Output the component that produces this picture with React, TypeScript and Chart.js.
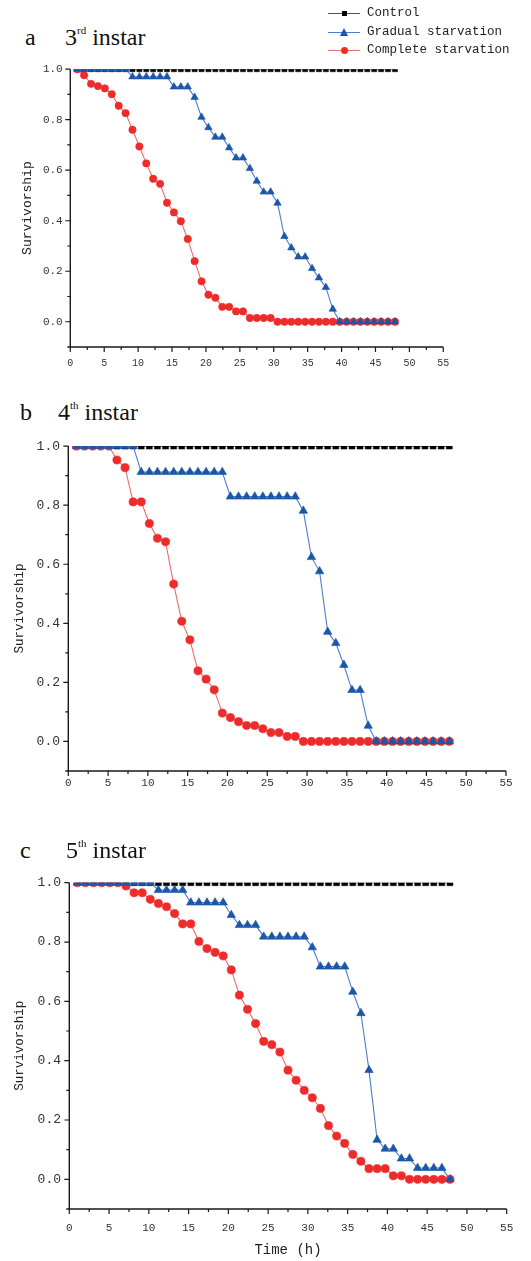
import React, { useEffect, useRef } from "react";
import { Chart, registerables } from "chart.js";

Chart.register(...registerables);

// ---------- data ----------
const timeHours = [
  1, 2, 3, 4, 5, 6, 7, 8, 9, 10, 11, 12, 13, 14, 15, 16, 17, 18, 19, 20, 21, 22, 23, 24,
  25, 26, 27, 28, 29, 30, 31, 32, 33, 34, 35, 36, 37, 38, 39, 40, 41, 42, 43, 44, 45, 46, 47,
];

const controlSurvival = [
  1, 1, 1, 1, 1, 1, 1, 1, 1, 1, 1, 1, 1, 1, 1, 1, 1, 1, 1, 1, 1, 1, 1, 1,
  1, 1, 1, 1, 1, 1, 1, 1, 1, 1, 1, 1, 1, 1, 1, 1, 1, 1, 1, 1, 1, 1, 1,
];

// 3rd instar
const gradual3rd = [
  1, 1, 1, 1, 1, 1, 1, 1, 0.97, 0.97, 0.97, 0.97, 0.97, 0.97, 0.93, 0.93, 0.93, 0.889, 0.81,
  0.769, 0.731, 0.731, 0.689, 0.649, 0.649, 0.607, 0.557, 0.514, 0.514, 0.47, 0.338, 0.293,
  0.257, 0.257, 0.211, 0.174, 0.136, 0.05, 0, 0, 0, 0, 0, 0, 0, 0, 0,
];
const complete3rd = [
  1, 0.976, 0.942, 0.933, 0.924, 0.901, 0.855, 0.826, 0.76, 0.694, 0.627, 0.566, 0.546, 0.471,
  0.433, 0.398, 0.328, 0.24, 0.16, 0.107, 0.095, 0.059, 0.059, 0.041, 0.041, 0.015, 0.015,
  0.015, 0.015, 0, 0, 0, 0, 0, 0, 0, 0, 0, 0, 0, 0, 0, 0, 0, 0, 0, 0,
];

// 4th instar
const gradual4th = [
  1, 1, 1, 1, 1, 1, 1, 1, 0.912, 0.912, 0.912, 0.912, 0.912, 0.912, 0.912, 0.912, 0.912,
  0.912, 0.912, 0.829, 0.829, 0.829, 0.829, 0.829, 0.829, 0.829, 0.829, 0.829, 0.781, 0.624,
  0.576, 0.371, 0.333, 0.259, 0.174, 0.174, 0.053, 0, 0, 0, 0, 0, 0, 0, 0, 0, 0,
];
const complete4th = [
  1, 1, 1, 1, 1, 0.953, 0.927, 0.811, 0.811, 0.738, 0.688, 0.676, 0.533, 0.407, 0.344, 0.239,
  0.211, 0.175, 0.096, 0.081, 0.067, 0.054, 0.054, 0.043, 0.03, 0.03, 0.017, 0.017, 0, 0, 0,
  0, 0, 0, 0, 0, 0, 0, 0, 0, 0, 0, 0, 0, 0, 0, 0,
];

// 5th instar
const gradual5th = [
  1, 1, 1, 1, 1, 1, 1, 1, 1, 1, 0.975, 0.975, 0.975, 0.975, 0.933, 0.933, 0.933, 0.933, 0.933,
  0.891, 0.857, 0.857, 0.857, 0.818, 0.818, 0.818, 0.818, 0.818, 0.818, 0.782, 0.717, 0.717,
  0.717, 0.717, 0.632, 0.56, 0.368, 0.133, 0.103, 0.103, 0.07, 0.07, 0.038, 0.038, 0.038,
  0.038, 0,
];
const complete5th = [
  1, 1, 1, 1, 1, 1, 0.989, 0.966, 0.966, 0.944, 0.93, 0.919, 0.896, 0.861, 0.861, 0.802, 0.778,
  0.765, 0.753, 0.706, 0.621, 0.573, 0.525, 0.465, 0.454, 0.429, 0.368, 0.334, 0.3, 0.275,
  0.239, 0.181, 0.146, 0.121, 0.084, 0.061, 0.036, 0.036, 0.036, 0.012, 0.012, 0, 0, 0, 0, 0, 0,
];

const xTickLabels = ["0", "5", "10", "15", "20", "25", "30", "35", "40", "45", "50", "55"];
const yTickLabels = ["0.0", "0.2", "0.4", "0.6", "0.8", "1.0"];
const seriesNames = ["Control", "Gradual starvation", "Complete starvation"];

// ---------- styling ----------
const MONO = "'Liberation Mono', 'DejaVu Sans Mono', monospace";
const SERIF = "'Liberation Serif', 'Times New Roman', serif";
const RED_PT = "#EE2B2B";
const RED_LINE = "#F06A6A";
const BLUE_PT = "#1B56A8";
const BLUE_LINE = "#4D7DCC";
const BLACK_PT = "#000000";
const BLACK_LINE = "#555555";

const panels = [
  {
    key: "a", letter: "a", stage: "3", sup: "rd",
    gradual: gradual3rd, complete: complete3rd,
    top: 55, height: 320, padTop: 14, padRight: 87.7, yWidth: 70.3, xHeight: 28,
    xFont: 10, yFont: 11, xPad: 10, yPad: 7.6, yTitleFont: 13, yTitlePad: 20,
    sq: 3.6, circ: 3.7, tri: 4.3, showXTitle: false,
    letterX: 25, stageX: 65, baseline: 45,
  },
  {
    key: "b", letter: "b", stage: "4", sup: "th",
    gradual: gradual4th, complete: complete4th,
    top: 430, height: 370, padTop: 15, padRight: 25, yWidth: 68.3, xHeight: 29,
    xFont: 11, yFont: 13, xPad: 5, yPad: 8.3, yTitleFont: 12.5, yTitlePad: 12,
    sq: 4.2, circ: 4.1, tri: 4.9, showXTitle: false,
    letterX: 20, stageX: 58, baseline: 420,
  },
  {
    key: "c", letter: "c", stage: "5", sup: "th",
    gradual: gradual5th, complete: complete5th,
    top: 865, height: 396, padTop: 17.7, padRight: 24.3, yWidth: 69.3, xHeight: 52,
    xFont: 11, yFont: 13, xPad: 12.5, yPad: 8.3, yTitleFont: 12.5, yTitlePad: 12,
    sq: 4.2, circ: 4.1, tri: 4.9, showXTitle: true,
    letterX: 20, stageX: 66, baseline: 858,
  },
];

// draws Origin-style axis lines with major/minor outward ticks
const originAxes = {
  id: "originAxes",
  afterDatasetsDraw(chart: any) {
    const { ctx, chartArea: ca, scales } = chart;
    const xs = scales.x;
    const ys = scales.y;
    ctx.save();
    ctx.strokeStyle = "#1a1a1a";
    ctx.lineWidth = 1.4;
    ctx.beginPath();
    ctx.moveTo(ca.left, ca.top);
    ctx.lineTo(ca.left, ca.bottom);
    ctx.moveTo(ca.left - 3, ca.bottom);
    ctx.lineTo(ca.right, ca.bottom);
    ctx.stroke();
    ctx.lineWidth = 1.2;
    ctx.beginPath();
    ys.ticks.forEach((t: any) => {
      if (t.value < -0.05) return;
      const y = ys.getPixelForValue(t.value);
      const len = t.label !== "" ? 5 : 3;
      ctx.moveTo(ca.left, y);
      ctx.lineTo(ca.left - len, y);
    });
    xs.ticks.forEach((t: any) => {
      const x = xs.getPixelForValue(t.value);
      const len = t.label !== "" ? 5 : 3;
      ctx.moveTo(x, ca.bottom);
      ctx.lineTo(x, ca.bottom + len);
    });
    ctx.stroke();
    ctx.restore();
  },
};

function toPoints(values: number[]) {
  return timeHours.map((t, i) => ({ x: t, y: values[i] }));
}

function Panel({ p }: { p: any }) {
  const ref = useRef<HTMLCanvasElement>(null);
  useEffect(() => {
    if (!ref.current) return;
    const chart = new Chart(ref.current, {
      type: "line",
      data: {
        datasets: [
          {
            label: seriesNames[0],
            data: toPoints(controlSurvival),
            borderColor: BLACK_LINE,
            borderWidth: 1.2,
            pointStyle: "rect",
            pointRadius: p.sq,
            pointBackgroundColor: BLACK_PT,
            pointBorderColor: BLACK_PT,
            pointBorderWidth: 0.5,
            xAxisID: "xd",
            yAxisID: "y",
            order: 3,
            clip: 0,
            tension: 0,
          },
          {
            label: seriesNames[1],
            data: toPoints(p.gradual),
            borderColor: BLUE_LINE,
            borderWidth: 1.1,
            pointStyle: "triangle",
            pointRadius: p.tri,
            pointBackgroundColor: BLUE_PT,
            pointBorderColor: BLUE_PT,
            pointBorderWidth: 0.6,
            xAxisID: "xd",
            yAxisID: "y",
            order: 1,
            clip: 0,
            tension: 0,
          },
          {
            label: seriesNames[2],
            data: toPoints(p.complete),
            borderColor: RED_LINE,
            borderWidth: 1.1,
            pointStyle: "circle",
            pointRadius: p.circ,
            pointBackgroundColor: RED_PT,
            pointBorderColor: RED_PT,
            pointBorderWidth: 0.6,
            xAxisID: "xd",
            yAxisID: "y",
            order: 2,
            clip: 0,
            tension: 0,
          },
        ],
      } as any,
      options: {
        responsive: false,
        animation: false,
        devicePixelRatio: 1,
        events: [],
        layout: { padding: { top: p.padTop, right: p.padRight, left: 0, bottom: 0 } },
        plugins: {
          legend: { display: false },
          tooltip: { enabled: false },
          title: { display: false },
        },
        scales: {
          x: {
            type: "linear",
            position: "bottom",
            min: 0,
            max: 55,
            grid: { display: false, drawTicks: false },
            border: { display: false },
            ticks: {
              stepSize: 2.5,
              autoSkip: false,
              maxRotation: 0,
              minRotation: 0,
              padding: p.xPad,
              color: "#333333",
              font: { family: MONO, size: p.xFont },
              callback: (v: any) => {
                const s = String(v);
                return xTickLabels.includes(s) ? s : "";
              },
            },
            title: p.showXTitle
              ? {
                  display: true,
                  text: "Time (h)",
                  color: "#222222",
                  font: { family: MONO, size: 14 },
                  padding: { top: 0, bottom: 2 },
                }
              : { display: false },
            afterFit: (s: any) => {
              s.height = p.xHeight;
            },
          },
          xd: {
            type: "linear",
            axis: "x",
            position: "bottom",
            min: 0,
            max: 54,
            display: false,
          },
          y: {
            type: "linear",
            position: "left",
            min: -0.1,
            max: 1.0,
            grid: { display: false, drawTicks: false },
            border: { display: false },
            ticks: {
              stepSize: 0.1,
              autoSkip: false,
              padding: p.yPad,
              color: "#333333",
              font: { family: MONO, size: p.yFont },
              callback: (v: any) => {
                const s = Number(v).toFixed(1);
                return yTickLabels.includes(s) ? s : "";
              },
            },
            title: {
              display: true,
              text: "Survivorship",
              color: "#222222",
              font: { family: MONO, size: p.yTitleFont },
              padding: { top: p.yTitlePad, bottom: 0 },
            },
            afterFit: (s: any) => {
              s.width = p.yWidth;
            },
          },
        },
      } as any,
      plugins: [originAxes],
    });
    return () => chart.destroy();
  }, []);
  return (
    <canvas
      ref={ref}
      width={531}
      height={p.height}
      style={{ position: "absolute", left: 0, top: p.top, width: 531, height: p.height }}
    />
  );
}

function PanelTitle({ p }: { p: any }) {
  const base: React.CSSProperties = {
    position: "absolute",
    top: p.baseline - 20,
    fontFamily: SERIF,
    fontSize: 24,
    lineHeight: "24px",
    color: "#111",
    whiteSpace: "nowrap",
  };
  return (
    <>
      <div style={{ ...base, left: p.letterX }}>{p.letter}</div>
      <div style={{ ...base, left: p.stageX }}>
        {p.stage}
        <span style={{ fontSize: 11, position: "relative", top: -11 }}>{p.sup}</span>
        {" instar"}
      </div>
    </>
  );
}

function LegendMarker({ kind, color }: { kind: string; color: string }) {
  if (kind === "rect") {
    return <div style={{ position: "absolute", left: 13.5, top: -2.5, width: 5, height: 5, background: color }} />;
  }
  if (kind === "triangle") {
    return (
      <div
        style={{
          position: "absolute", left: 11.5, top: -4.5, width: 0, height: 0,
          borderLeft: "4.5px solid transparent", borderRight: "4.5px solid transparent",
          borderBottom: `8px solid ${color}`,
        }}
      />
    );
  }
  return <div style={{ position: "absolute", left: 12.5, top: -3.5, width: 7, height: 7, borderRadius: "50%", background: color }} />;
}

function Legend() {
  const items = [
    { name: seriesNames[0], line: BLACK_LINE, pt: BLACK_PT, kind: "rect", y: 13 },
    { name: seriesNames[1], line: BLUE_LINE, pt: BLUE_PT, kind: "triangle", y: 32 },
    { name: seriesNames[2], line: RED_LINE, pt: RED_PT, kind: "circle", y: 50 },
  ];
  return (
    <>
      {items.map((it) => (
        <div key={it.name} style={{ position: "absolute", left: 328, top: it.y, width: 200, height: 0 }}>
          <div style={{ position: "absolute", left: 0, top: -0.5, width: 32, height: 1.2, background: it.line }} />
          <LegendMarker kind={it.kind} color={it.pt} />
          <div
            style={{
              position: "absolute", left: 39, top: -8, fontFamily: MONO, fontSize: 12.5,
              lineHeight: "16px", color: "#222", whiteSpace: "nowrap",
            }}
          >
            {it.name}
          </div>
        </div>
      ))}
    </>
  );
}

export default function App() {
  return (
    <div
      style={{
        position: "absolute", left: 0, top: 0, width: 531, height: 1261,
        background: "#ffffff", overflow: "hidden",
      }}
    >
      {panels.map((p) => (
        <Panel key={p.key} p={p} />
      ))}
      {panels.map((p) => (
        <PanelTitle key={"t" + p.key} p={p} />
      ))}
      <Legend />
    </div>
  );
}
